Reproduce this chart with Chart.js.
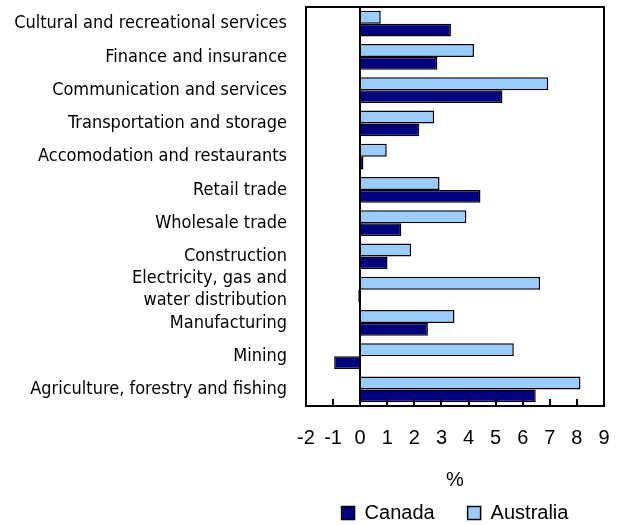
<!DOCTYPE html>
<html>
<head>
<meta charset="utf-8">
<script src="https://cdn.jsdelivr.net/npm/chart.js@4"></script>
<style>
  html, body { margin:0; padding:0; background:#fff; }
  #wrap { width:619px; height:525px; }
</style>
</head>
<body>
<div id="wrap"><canvas id="chart" width="619" height="525"></canvas></div>
<script>
// ── Data ───────────────────────────────────────────
const CATEGORIES = [
  "Cultural and recreational services",
  "Finance and insurance",
  "Communication and services",
  "Transportation and storage",
  "Accomodation and restaurants",
  "Retail trade",
  "Wholesale trade",
  "Construction",
  ["Electricity, gas and", "water distribution"],
  "Manufacturing",
  "Mining",
  "Agriculture, forestry and fishing",
];
const AUSTRALIA = [0.76, 4.2, 6.94, 2.73, 0.98, 2.93, 3.92, 1.88, 6.64, 3.48, 5.67, 8.13];
const CANADA    = [3.35, 2.85, 5.25, 2.18, 0.12, 4.44, 1.52, 1.01, -0.07, 2.5, -0.96, 6.48];
const X_MIN = -2, X_MAX = 9;

const SANS = "Liberation Sans, Arial, sans-serif";
const NARROW = "DejaVu Sans Condensed, Liberation Sans, sans-serif";

// ── Frame, zero line and inward ticks ──────────────
const framePlugin = {
  id: "frame",
  afterDatasetsDraw(chart) {
    const { ctx, chartArea: a, scales: { x } } = chart;
    ctx.save();
    ctx.strokeStyle = "#000";
    ctx.lineWidth = 2;
    ctx.strokeRect(a.left, a.top, a.right - a.left, a.bottom - a.top);
    const x0 = Math.round(x.getPixelForValue(0));
    ctx.beginPath();
    ctx.moveTo(x0, a.top);
    ctx.lineTo(x0, a.bottom);
    ctx.stroke();
    for (let v = X_MIN; v <= X_MAX; v++) {
      const px = Math.round(x.getPixelForValue(v));
      ctx.beginPath();
      ctx.moveTo(px, a.bottom);
      ctx.lineTo(px, a.bottom - 7);
      ctx.stroke();
    }
    ctx.restore();
  }
};

new Chart(document.getElementById("chart"), {
  type: "bar",
  data: {
    labels: CATEGORIES,
    datasets: [
      { label: "Australia", data: AUSTRALIA, backgroundColor: "#99ccff", borderColor: "#000", borderWidth: 1.5 },
      { label: "Canada", data: CANADA, backgroundColor: "#000080", borderColor: "#000", borderWidth: 1.5 },
    ],
  },
  options: {
    indexAxis: "y",
    responsive: false,
    animation: false,
    categoryPercentage: 0.78,
    barPercentage: 1,
    layout: { padding: { top: 7, right: 15, bottom: -8 } },
    plugins: {
      tooltip: { enabled: false },
      legend: {
        position: "bottom",
        fullSize: false,
        reverse: true,
        labels: {
          color: "#000",
          font: { family: SANS, size: 20 },
          boxWidth: 13, boxHeight: 13, padding: 33,
        },
      },
    },
    scales: {
      x: {
        min: X_MIN, max: X_MAX,
        grid: { display: false, drawTicks: false },
        border: { display: false },
        ticks: { stepSize: 1, color: "#000", padding: 20, font: { family: SANS, size: 20 } },
        title: { display: true, text: "%", color: "#000", padding: { top: -2, bottom: -22 }, font: { family: SANS, size: 20 } },
        afterFit(scale) {
          scale.paddingLeft = 0;
          scale.paddingRight = 0;
        },
      },
      y: {
        grid: { display: false, drawTicks: false },
        border: { display: false },
        ticks: { color: "#000", padding: 19, autoSkip: false, font: { family: NARROW, size: 18 } },
        afterFit(scale) {
          scale.width = 306;
          scale.paddingTop = 0;
          scale.paddingBottom = 0;
        },
      },
    },
  },
  plugins: [framePlugin],
});
</script>
</body>
</html>
